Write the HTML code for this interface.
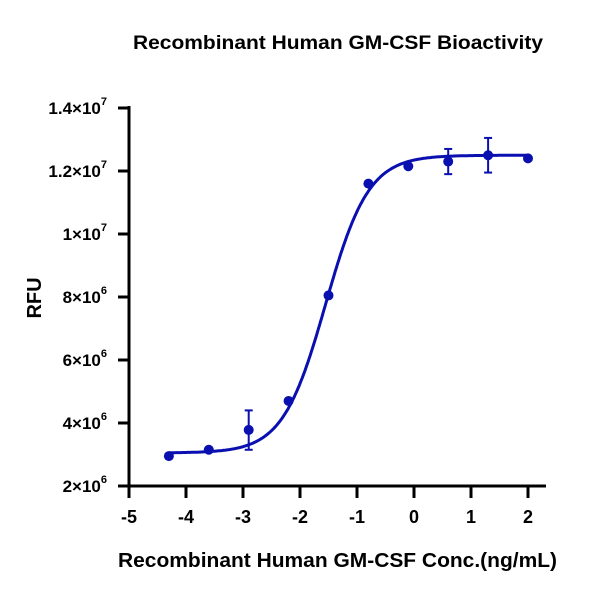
<!DOCTYPE html>
<html><head><meta charset="utf-8"><style>
html,body{margin:0;padding:0;background:#fff;}
svg text{font-family:"Liberation Sans",Arial,sans-serif;font-weight:bold;fill:#000;}
</style></head><body>
<svg id="s" width="600" height="600" xmlns="http://www.w3.org/2000/svg">
<text x="133" y="49" font-size="19" textLength="410" lengthAdjust="spacingAndGlyphs">Recombinant Human GM-CSF Bioactivity</text>
<text transform="translate(41,298) rotate(-90)" font-size="20" text-anchor="middle">RFU</text>
<text x="118" y="567" font-size="20" textLength="439" lengthAdjust="spacingAndGlyphs">Recombinant Human GM-CSF Conc.(ng/mL)</text>
<g stroke="#000" stroke-width="3" fill="none">
<line x1="129" y1="106" x2="129" y2="487.5"/>
<line x1="127.5" y1="486" x2="546" y2="486"/>
</g>
<script>
var s=document.getElementById('s'),NS="http://www.w3.org/2000/svg";
function px(x){return 129+(x+5)*57;}
function py(y){return 486-(y-2)*31.5;}
function el(t,a,txt){var e=document.createElementNS(NS,t);for(var k in a)e.setAttribute(k,a[k]);if(txt!==undefined)e.textContent=txt;s.appendChild(e);return e;}
var ylab=[["2×10","6"],["4×10","6"],["6×10","6"],["8×10","6"],["1×10","7"],["1.2×10","7"],["1.4×10","7"]];
for(var i=0;i<7;i++){var y=py(2+2*i);
el('line',{x1:118,y1:y,x2:129,y2:y,stroke:'#000','stroke-width':3});
var t=el('text',{x:107,y:y+6,'font-size':17,'text-anchor':'end'});
t.textContent=ylab[i][0];var sp=document.createElementNS(NS,'tspan');sp.setAttribute('dy','-9');sp.setAttribute('font-size','11');sp.textContent=ylab[i][1];t.appendChild(sp);}
for(var x=-5;x<=2;x++){var X=px(x);
el('line',{x1:X,y1:486,x2:X,y2:498,stroke:'#000','stroke-width':3});
el('text',{x:X,y:523,'font-size':18,'text-anchor':'middle'},String(x));}
var B=3.05,T=12.5,C=-1.55,H=1.15,d="";
for(var x=-4.3;x<=2.001;x+=0.02){var v=B+(T-B)/(1+Math.pow(10,(C-x)*H));d+=(d?"L":"M")+px(x).toFixed(1)+","+py(v).toFixed(1);}
el('path',{d:d,stroke:'#0a0fb0','stroke-width':3,fill:'none'});
var pts=[[-4.3,2.95],[-3.6,3.15],[-2.9,3.78,3.15,4.4],[-2.2,4.7],[-1.5,8.05],[-0.8,11.6],[-0.1,12.15],[0.6,12.3,11.9,12.7],[1.3,12.5,11.95,13.05],[2.0,12.4]];
pts.forEach(function(p){var X=px(p[0]);
if(p.length>2){var a=py(p[2]),b=py(p[3]);
el('line',{x1:X,y1:a,x2:X,y2:b,stroke:'#0a0fb0','stroke-width':2});
el('line',{x1:X-4,y1:a,x2:X+4,y2:a,stroke:'#0a0fb0','stroke-width':2});
el('line',{x1:X-4,y1:b,x2:X+4,y2:b,stroke:'#0a0fb0','stroke-width':2});}
el('circle',{cx:X,cy:py(p[1]),r:5,fill:'#0a0fb0'});});
</script>
</svg>
</body></html>
